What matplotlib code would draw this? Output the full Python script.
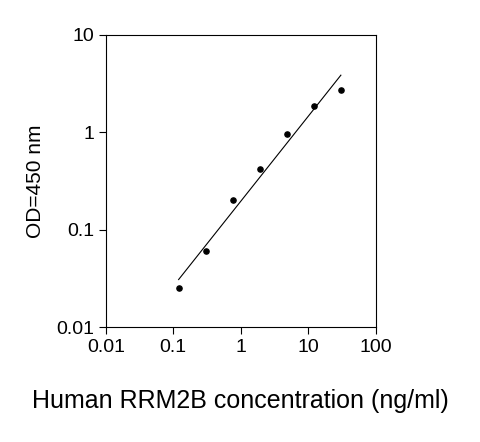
import matplotlib
matplotlib.use("Agg")
import matplotlib.pyplot as plt
from matplotlib.ticker import FixedLocator, NullLocator
import numpy as np

plt.rcParams['font.family'] = ['Liberation Sans', 'DejaVu Sans']

conc = [0.12, 0.31, 0.78, 1.95, 4.88, 12.2, 30.5]
od = [0.025, 0.061, 0.20, 0.42, 0.96, 1.85, 2.75]
xticks = [0.01, 0.1, 1, 10, 100]
xlabels = ["0.01", "0.1", "1", "10", "100"]
yticks = [0.01, 0.1, 1, 10]
ylabels = ["0.01", "0.1", "1", "10"]

fig = plt.figure(figsize=(4.81, 4.42), dpi=100)
ax = fig.add_axes([0.22, 0.26, 0.561, 0.661])

ax.scatter(conc, od, s=14, color="black", zorder=3)
lx, ly = np.log10(conc), np.log10(od)
k, b = np.polyfit(lx, ly, 1)
xs = np.array([lx[0], lx[-1]])
ax.plot(10 ** xs, 10 ** (k * xs + b), color="black", linewidth=0.8)

ax.set_xscale("log")
ax.set_yscale("log")
ax.set_xlim(0.01, 100)
ax.set_ylim(0.01, 10)
ax.xaxis.set_major_locator(FixedLocator(xticks))
ax.yaxis.set_major_locator(FixedLocator(yticks))
ax.xaxis.set_minor_locator(NullLocator())
ax.yaxis.set_minor_locator(NullLocator())
ax.set_xticklabels(xlabels, fontsize=14)
ax.set_yticklabels(ylabels, fontsize=14)
ax.tick_params(direction="out", length=5, width=0.8)
for s in ax.spines.values():
    s.set_linewidth(0.8)

ax.set_xlabel("Human RRM2B concentration (ng/ml)", fontsize=18, labelpad=24)
ax.set_ylabel("OD=450 nm", fontsize=15, labelpad=8)

fig.savefig("out.png", dpi=100)
